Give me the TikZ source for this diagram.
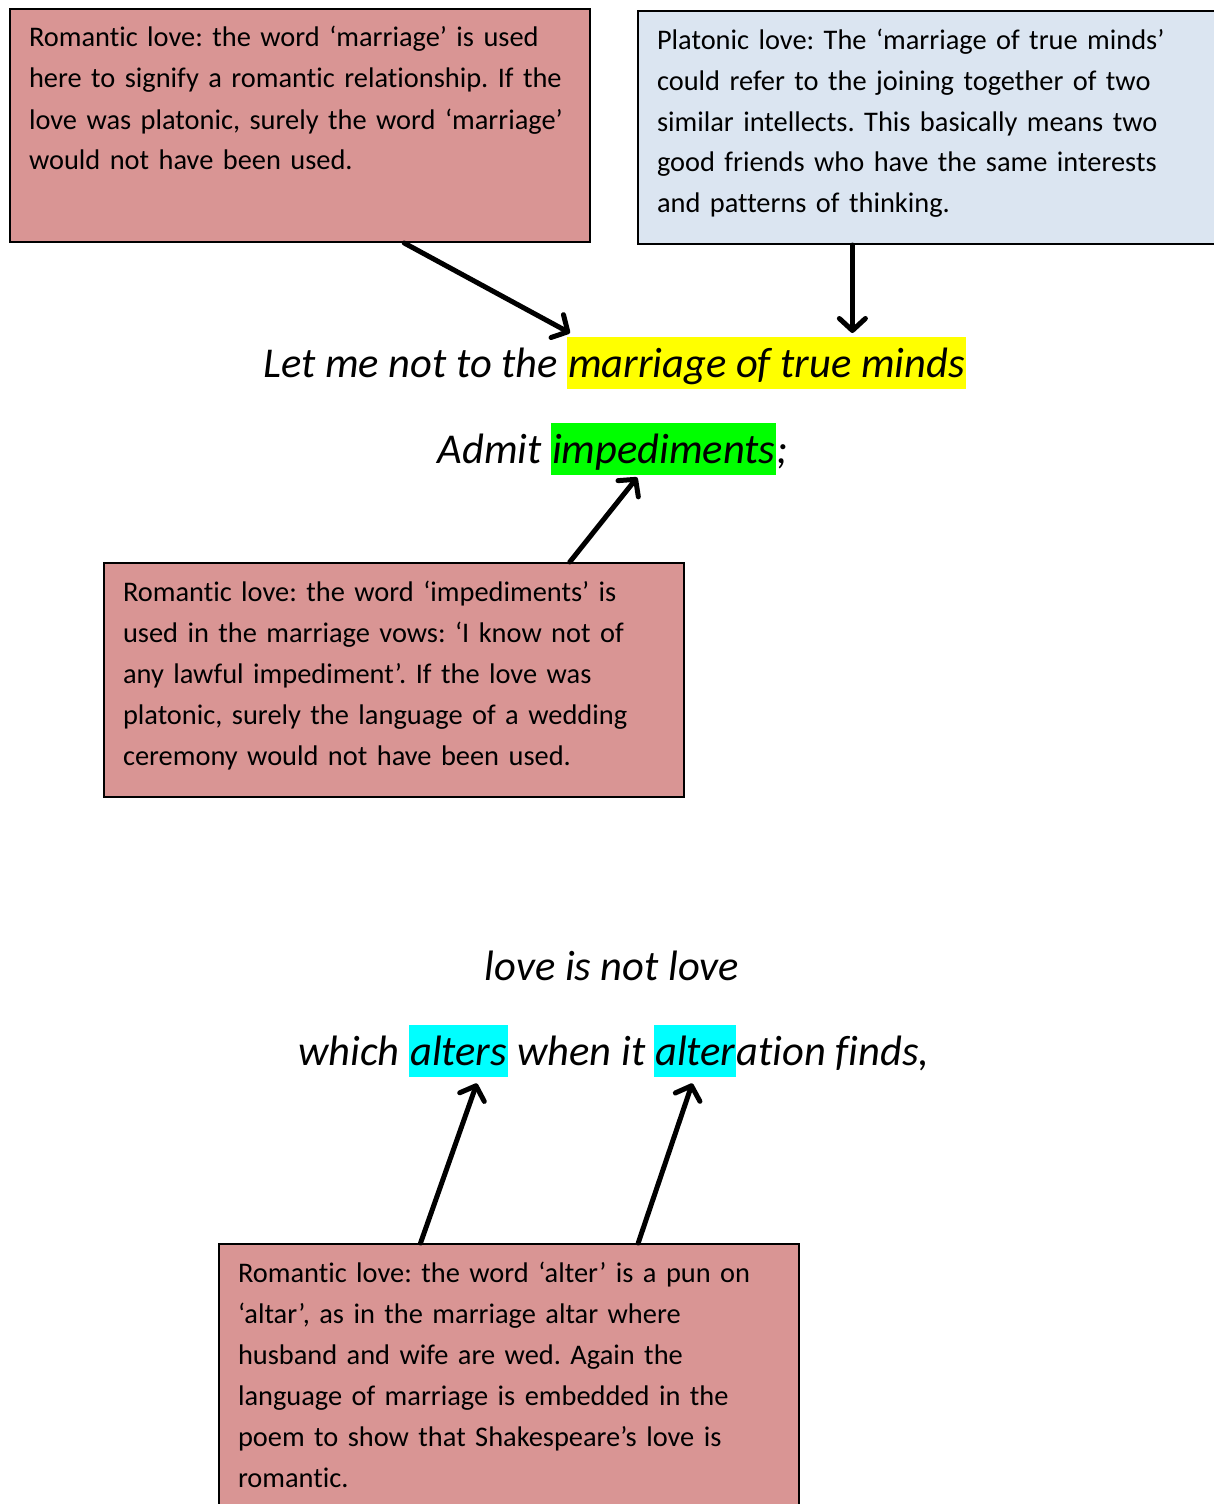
\documentclass[tikz,border=0pt]{standalone}
\usepackage{fontspec}
\setmainfont{Carlito}[Ligatures=NoCommon]
\frenchspacing
\hyphenpenalty=10000
\usetikzlibrary{calc,positioning,arrows.meta}
\definecolor{sonnetInk}{HTML}{000000}
\definecolor{sonnetRose}{HTML}{D99594}
\definecolor{sonnetSky}{HTML}{DBE5F1}
\definecolor{sonnetYellow}{HTML}{FFFF00}
\definecolor{sonnetGreen}{HTML}{00FF00}
\definecolor{sonnetCyan}{HTML}{00FFFF}

\begin{document}
\begin{tikzpicture}[
    x=1pt, y=-1pt,
    sonnet note/.style={draw=sonnetInk, line width=2pt, anchor=north west, align=left,
      inner xsep=19pt, inner ysep=0pt, text width=542pt, text height=38pt, text depth=195pt,
      font=\fontsize{28.4}{41}\selectfont},
    sonnet line/.style={font=\fontsize{42.5}{50}\selectfont\itshape, inner sep=0pt,
      text height=40pt, text depth=12pt},
    sonnet mark/.style={sonnet line, inner xsep=1pt},
    sonnet arrow/.style={draw=sonnetInk, line width=5pt, line cap=round,
      -{Straight Barb[length=12pt, width=26pt, round]}},
]
  \useasboundingbox (0,0) rectangle (1214,1504);

  % Caixas de comentário.
  \node[sonnet note, fill=sonnetRose] (romMarriage) at (9,8)
    {Romantic love: the word ‘marriage’ is used\\
     here to signify a romantic relationship. If the\\
     love was platonic, surely the word ‘marriage’\\
     would not have been used.};
  \node[sonnet note, fill=sonnetSky, text width=539pt] (platonic) at (637,10)
    {Platonic love: The ‘marriage of true minds’\\
     could refer to the joining together of two\\
     similar intellects. This basically means two\\
     good friends who have the same interests\\
     and patterns of thinking.};
  \node[sonnet note, fill=sonnetRose, text depth=196pt] (romImpediments) at (103,562)
    {Romantic love: the word ‘impediments’ is\\
     used in the marriage vows: ‘I know not of\\
     any lawful impediment’. If the love was\\
     platonic, surely the language of a wedding\\
     ceremony would not have been used.};
  \node[sonnet note, fill=sonnetRose, text depth=300pt] (romAlter) at (218,1243)
    {Romantic love: the word ‘alter’ is a pun on\\
     ‘altar’, as in the marriage altar where\\
     husband and wife are wed. Again the\\
     language of marriage is embedded in the\\
     poem to show that Shakespeare’s love is\\
     romantic.};

  % Versos.
  \node[sonnet mark, fill=sonnetYellow, anchor=north west] (marriage) at (567,337) {marriage of true minds};
  \node[sonnet line, base left=9pt of marriage] (letMe) {Let me not to the};
  \node[sonnet mark, fill=sonnetGreen, anchor=north west] (impediments) at (551,423) {impediments};
  \node[sonnet line, base left=9pt of impediments] (admit) {Admit};
  \node[sonnet line, base right=0pt of impediments] (semicolon) {;};
  \node[sonnet line, anchor=base] (loveNot) at (612,980) {love is not love};
  \node[sonnet mark, fill=sonnetCyan, anchor=north west] (alters) at (409,1025) {alters};
  \node[sonnet line, base left=9pt of alters] (which) {which};
  \node[sonnet line, base right=9pt of alters] (whenIt) {when it};
  \node[sonnet mark, fill=sonnetCyan, anchor=north west] (alter) at (654,1025) {alter};
  \node[sonnet line, base right=0pt of alter] (ation) {ation finds,};

  % Setas.
  \coordinate (platonicFoot) at ($(platonic.south west)!0.372!(platonic.south east)$);
  \draw[sonnet arrow] ($(romMarriage.south west)!0.679!(romMarriage.south east)$) -- ($(marriage.north west)+(3,-4)$);
  \draw[sonnet arrow] (platonicFoot) -- ($(platonicFoot |- marriage.north)+(0,-4)$);
  \draw[sonnet arrow] ($(romImpediments.north west)!0.802!(romImpediments.north east)$) -- ($(impediments.south west)!0.382!(impediments.south east)+(0,2)$);
  \draw[sonnet arrow] ($(romAlter.north west)!0.348!(romAlter.north east)$) -- ($(alters.south west)!0.684!(alters.south east)+(0,6)$);
  \draw[sonnet arrow] ($(romAlter.north west)!0.722!(romAlter.north east)$) -- ($(alter.south west)!0.463!(alter.south east)+(0,6)$);
\end{tikzpicture}
\end{document}
